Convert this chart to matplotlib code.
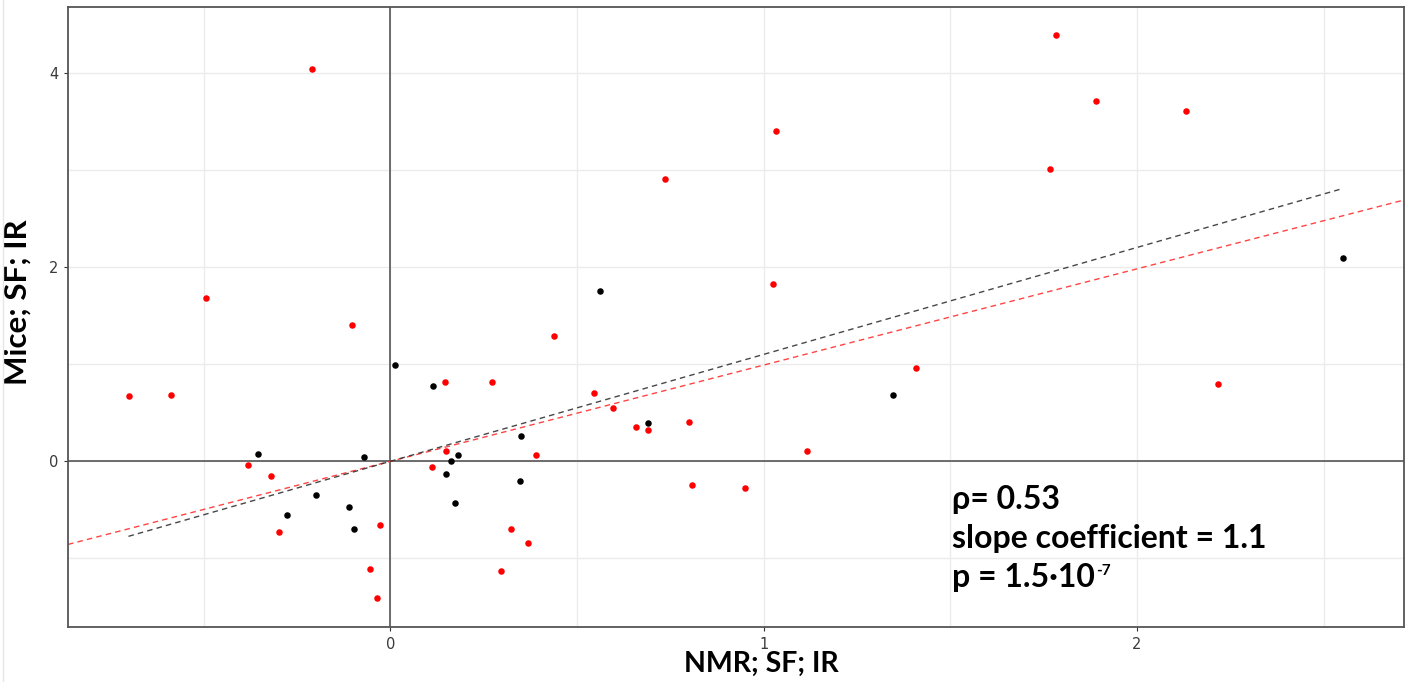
import numpy as np
import matplotlib
matplotlib.use("Agg")
from matplotlib import pyplot as plt
from matplotlib.lines import Line2D

# points
red_x = [-0.701, -0.587, -0.494, -0.210, -0.103, -0.381, -0.319, -0.299, -0.029, -0.054,
         -0.037, 0.110, 0.145, 0.148, 0.273, 0.324, 0.295, 0.369, 0.389, 0.437,
         0.545, 0.597, 0.657, 0.691, 0.735, 0.799, 0.809, 0.950, 1.026, 1.033,
         1.116, 1.408, 1.767, 1.782, 1.890, 2.131, 2.216]
red_y = [0.67, 0.68, 1.68, 4.04, 1.40, -0.034, -0.148, -0.725, -0.66, -1.106,
         -1.41, -0.062, 0.82, 0.11, 0.82, -0.70, -1.13, -0.84, 0.065, 1.29,
         0.70, 0.55, 0.35, 0.32, 2.90, 0.40, -0.24, -0.28, 1.82, 3.40,
         0.11, 0.96, 3.01, 4.39, 3.71, 3.60, 0.80]

black_x = [-0.355, -0.277, -0.199, -0.111, -0.097, -0.071, 0.011, 0.113, 0.150, 0.161,
           0.174, 0.182, 0.347, 0.350, 0.560, 0.691, 1.346, 2.552]
black_y = [0.075, -0.557, -0.35, -0.474, -0.70, 0.048, 0.99, 0.77, -0.13, 0.0,
           -0.43, 0.06, -0.20, 0.26, 1.75, 0.39, 0.68, 2.09]

# fitted lines through origin
black_slope = 1.10
black_range = [-0.702, 2.548]
red_slope = 0.99

x_ticks = [0, 1, 2]
y_ticks = [0, 2, 4]
x_minor = [-0.5, 0.5, 1.5, 2.5]
y_minor = [-1, 1, 3]

stats_lines = ["ρ= 0.53", "slope coefficient = 1.1", "p = 1.5·10"]
p_exponent = "-7"

fig = plt.figure(figsize=(14.11, 6.82), dpi=100)
ax = fig.add_axes([68 / 1411, 55 / 682, 1335.5 / 1411, 620 / 682])

# faint border on the left of the screenshot
fig.add_artist(Line2D([3 / 1411, 3 / 1411], [0, 1], color="#e6e6e6", lw=1, transform=fig.transFigure))

ax.set_xlim(-0.864, 2.714)
ax.set_ylim(-1.705, 4.674)

ax.set_xticks(x_ticks)
ax.set_yticks(y_ticks)
ax.set_xticks(x_minor, minor=True)
ax.set_yticks(y_minor, minor=True)
ax.grid(True, which="both", color="#ebebeb", lw=1.0, zorder=0)
ax.set_axisbelow(True)

ax.tick_params(which="major", length=3, width=0.8, color="#333333", labelsize=10.5,
               labelcolor="#3a3a3a", pad=4)
ax.tick_params(which="minor", length=0)
for s in ax.spines.values():
    s.set_color("#555555")
    s.set_linewidth(1.3)

ax.axhline(0, color="#555555", lw=1.2, zorder=1)
ax.axvline(0, color="#555555", lw=1.2, zorder=1)

xs = np.array(ax.get_xlim())
ax.plot(xs, red_slope * xs, color="#ff3030", lw=1.0, ls=(0, (4, 3)), alpha=0.9, zorder=2)
bx = np.array(black_range)
ax.plot(bx, black_slope * bx, color="#333333", lw=1.0, ls=(0, (4, 3)), alpha=0.9, zorder=2)

ax.scatter(red_x, red_y, s=22, color="#ff0000", lw=0, zorder=3)
ax.scatter(black_x, black_y, s=22, color="#000000", lw=0, zorder=3)

ax.set_xlabel("NMR; SF; IR", fontsize=20.5, fontweight="bold", family="Lato")
ax.set_ylabel("Mice; SF; IR", fontsize=22.5, fontweight="bold", family="Lato")
ax.xaxis.set_label_coords(0.519, -0.039)
ax.yaxis.set_label_coords(-0.027, 0.524)

texts = []
for i, line in enumerate(stats_lines):
    t = ax.text(1.505, -0.49 - 0.40 * i, line, fontsize=23, fontweight="bold",
                family="Lato", va="baseline", ha="left", zorder=4)
    texts.append(t)

# small raised exponent after the p-value text
ax.annotate(p_exponent, xy=(1, 1), xycoords=texts[-1], xytext=(1, -1),
            textcoords="offset points", fontsize=11, fontweight="bold",
            family="Lato", ha="left", va="top", zorder=4)

fig.savefig("out.png", dpi=100)
